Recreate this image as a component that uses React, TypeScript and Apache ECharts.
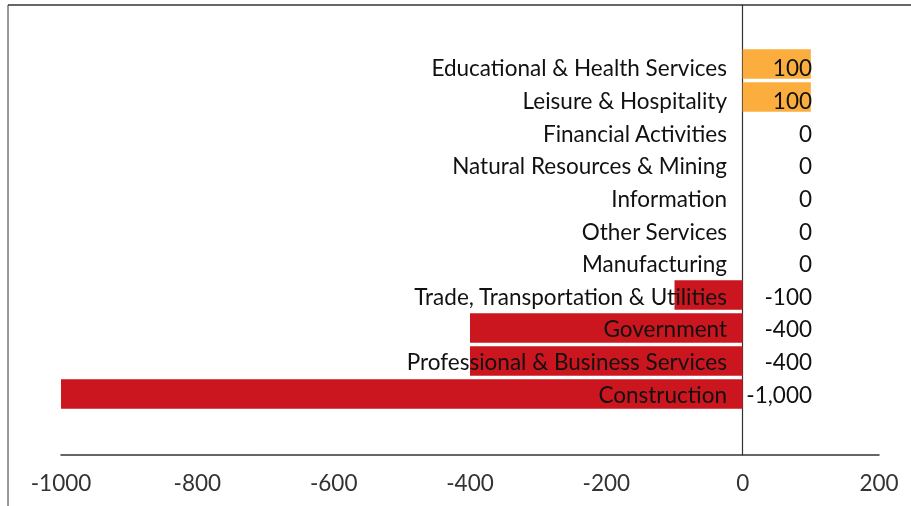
import React, { useEffect, useRef } from "react";
import * as echarts from "echarts";

const categories = [
  "Educational & Health Services",
  "Leisure & Hospitality",
  "Financial Activities",
  "Natural Resources & Mining",
  "Information",
  "Other Services",
  "Manufacturing",
  "Trade, Transportation & Utilities",
  "Government",
  "Professional & Business Services",
  "Construction",
];
const values = [100, 100, 0, 0, 0, 0, 0, -100, -400, -400, -1000];
const xTicks = { min: -1000, max: 200, interval: 200 };

const ORANGE = "#FBAE3E";
const RED = "#CC161F";
const FONT = "Lato";
const FS = 22.5;

const hiddenX = (gridIndex: number) => ({
  gridIndex,
  type: "value",
  min: xTicks.min,
  max: xTicks.max,
  interval: xTicks.interval,
  show: false,
  axisLine: { show: false },
  axisTick: { show: false },
  axisLabel: { show: false },
  splitLine: { show: false },
});

export default function App() {
  const ref = useRef<HTMLDivElement>(null);
  useEffect(() => {
    if (!ref.current) return;
    const chart = echarts.init(ref.current, null, { renderer: "svg" });
    const valueLabels = values.map((v) => v.toLocaleString("en-US"));
    chart.setOption({
      animation: false,
      grid: [
        { left: 61, right: 32, top: 47.5, bottom: 95.5, outerBoundsMode: "none", containLabel: false },
        { left: 61, right: 32, top: 5, bottom: 51, outerBoundsMode: "none", containLabel: false },
        { left: 61, right: 32, top: 51.6, bottom: 95.6, outerBoundsMode: "none", containLabel: false },
      ],
      xAxis: [
        hiddenX(0),
        {
          gridIndex: 1,
          type: "value",
          min: xTicks.min,
          max: xTicks.max,
          interval: xTicks.interval,
          axisLine: { show: true, onZero: false, lineStyle: { color: "#333", width: 1.5 } },
          axisTick: { show: false },
          axisLabel: {
            fontFamily: FONT,
            fontSize: FS,
            color: "#333",
            margin: 16,
            formatter: (v: number) => String(v),
          },
          splitLine: { show: false },
        },
        hiddenX(2),
      ],
      yAxis: [
        {
          gridIndex: 0,
          type: "category",
          inverse: true,
          data: categories,
          show: false,
          axisLine: { show: false, onZero: false },
          axisTick: { show: false },
          axisLabel: { show: false },
        },
        {
          gridIndex: 2,
          type: "category",
          inverse: true,
          position: "right",
          data: categories,
          z: 10,
          axisLine: { show: false, onZero: false },
          axisTick: { show: false },
          axisLabel: { inside: true, fontFamily: FONT, fontSize: FS, color: "#111", margin: 152 },
        },
        {
          gridIndex: 2,
          type: "category",
          inverse: true,
          position: "right",
          data: valueLabels,
          z: 10,
          axisLine: { show: false, onZero: false },
          axisTick: { show: false },
          axisLabel: { inside: true, fontFamily: FONT, fontSize: FS, color: "#111", margin: 67 },
        },
        {
          gridIndex: 1,
          type: "category",
          data: [""],
          axisLine: { show: true, onZero: true, lineStyle: { color: "#333", width: 1.2 } },
          axisTick: { show: false },
          axisLabel: { show: false },
        },
      ],
      series: [
        {
          type: "bar",
          xAxisIndex: 0,
          yAxisIndex: 0,
          barWidth: 29.5,
          data: values.map((v) => ({
            value: v,
            itemStyle: { color: v >= 0 ? ORANGE : RED },
          })),
        },
      ],
      graphic: [
        { type: "line", shape: { x1: 8, y1: 5, x2: 911, y2: 5 }, style: { stroke: "#666", lineWidth: 2 } },
        { type: "line", shape: { x1: 8, y1: 5, x2: 8, y2: 506 }, style: { stroke: "#333", lineWidth: 1 } },
      ],
    });
    return () => chart.dispose();
  }, []);
  return (
    <div
      ref={ref}
      style={{ position: "fixed", left: 0, top: 0, width: 911, height: 506 }}
    />
  );
}
